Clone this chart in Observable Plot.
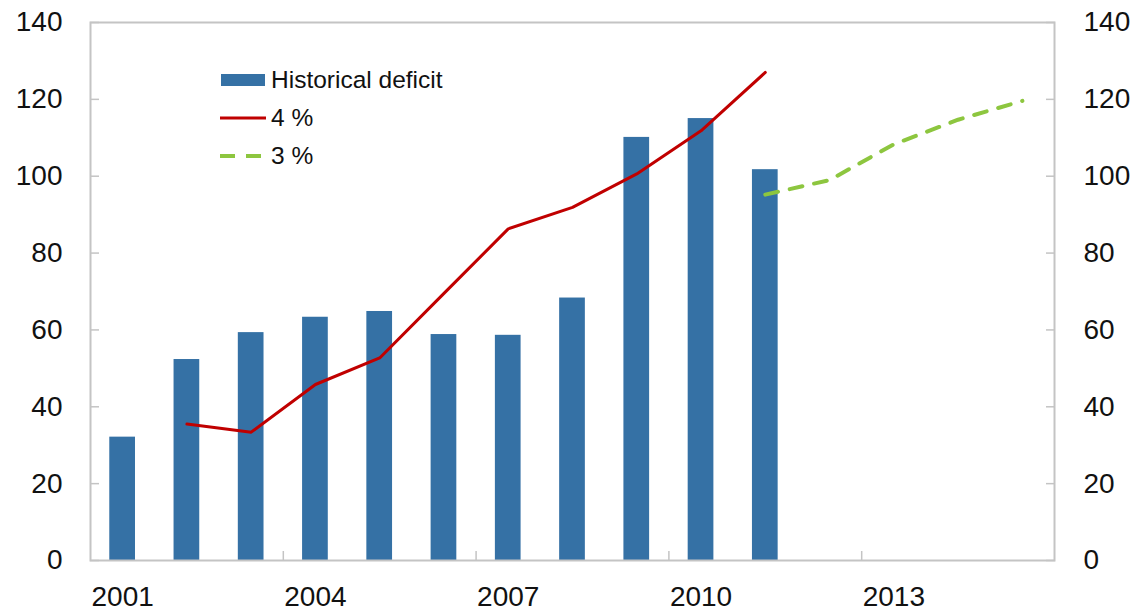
<!DOCTYPE html>
<html><head><meta charset="utf-8">
<script src="https://cdn.jsdelivr.net/npm/d3@7"></script>
<script src="https://cdn.jsdelivr.net/npm/@observablehq/plot@0.6"></script>
<style>
body{margin:0;background:#fff;}
#wrap{position:relative;width:1143px;height:613px;font-family:"Liberation Sans",Arial,sans-serif;}
.row{position:absolute;left:220px;height:38px;display:flex;align-items:center;font-size:24.5px;color:#111;white-space:nowrap;}
.row svg{margin-right:5px;display:block;}
</style></head><body><div id="wrap"></div>
<script>
const barYears = [2001,2002,2003,2004,2005,2006,2007,2008,2009,2010,2011];
const deficit  = [32.1,52.3,59.3,63.3,64.8,58.8,58.6,68.3,110.1,115.0,101.7];
const line4Years = [2002,2003,2004,2005,2006,2007,2008,2009,2010,2011];
const line4      = [35.5,33.4,45.8,52.7,69.5,86.3,91.9,100.6,111.8,127.0];
const line3Years = [2011,2012,2013,2014,2015];
const line3      = [95.2,99.0,108.3,114.7,119.6];
const yTicks = [0,20,40,60,80,100,120,140];
const xTickLabels = [2001,2004,2007,2010,2013];
const xTickMarks = [2003.5,2006.5,2009.5,2012.5];
const seriesNames = ["Historical deficit","4 %","3 %"];

const colors = {bar:"#3571a5", red:"#c00000", green:"#8dc63f", axis:"#c4c4c4", text:"#111"};

const bars = barYears.map((year,i)=>({year, value:deficit[i]}));
const s4 = line4Years.map((year,i)=>({year, value:line4[i]}));
const s3 = line3Years.map((year,i)=>({year, value:line3[i]}));

const halfBar = 0.2;

const chart = Plot.plot({
  width:1143, height:613,
  marginLeft:90, marginRight:89, marginTop:22, marginBottom:53,
  style:{fontFamily:'"Liberation Sans",Arial,sans-serif', fontSize:"28px", color:colors.text, background:"#fff", overflow:"visible"},
  x:{type:"linear", domain:[2000.5,2015.5]},
  y:{domain:[0,140]},
  marks:[
    Plot.rectY(bars,{x1:d=>d.year-halfBar, x2:d=>d.year+halfBar, y1:0, y2:"value", fill:colors.bar}),
    Plot.line(s4,{x:"year", y:"value", stroke:colors.red, strokeWidth:3}),
    Plot.line(s3,{x:"year", y:"value", stroke:colors.green, strokeWidth:4, strokeDasharray:"13,12"}),
    Plot.frame({stroke:colors.axis, strokeWidth:2}),
    Plot.axisY({anchor:"left", ticks:yTicks, tickSize:-9, stroke:colors.axis, strokeWidth:1.5, tickFormat:()=>"", label:null}),
    Plot.axisY({anchor:"left", ticks:yTicks, tickSize:0, tickPadding:28, tickFormat:d=>String(d), label:null, fontSize:28}),
    Plot.axisY({anchor:"right", ticks:yTicks, tickSize:-9, stroke:colors.axis, strokeWidth:1.5, tickFormat:()=>"", label:null}),
    Plot.axisY({anchor:"right", ticks:yTicks, tickSize:0, tickPadding:29, tickFormat:d=>String(d), label:null, fontSize:28}),
    Plot.axisX({anchor:"bottom", ticks:xTickMarks, tickSize:-9, stroke:colors.axis, strokeWidth:1.5, tickFormat:()=>"", label:null}),
    Plot.axisX({anchor:"bottom", ticks:xTickLabels, tickSize:0, tickPadding:26, tickFormat:d=>String(d), label:null, fontSize:28})
  ]
});
const wrap = document.getElementById("wrap");
wrap.appendChild(chart);

// legend
const rows = [
  {name:seriesNames[0], top:61, sw:`<svg width="46" height="14"><rect x="1" y="1" width="44" height="12" fill="${colors.bar}"/></svg>`},
  {name:seriesNames[1], top:99, sw:`<svg width="46" height="14"><line x1="0" y1="7" x2="46" y2="7" stroke="${colors.red}" stroke-width="3"/></svg>`},
  {name:seriesNames[2], top:137, sw:`<svg width="46" height="14"><line x1="0" y1="7" x2="46" y2="7" stroke="${colors.green}" stroke-width="4" stroke-dasharray="15,11"/></svg>`}
];
for (const r of rows) {
  const div = document.createElement("div");
  div.className = "row";
  div.style.top = r.top + "px";
  div.innerHTML = r.sw + `<span>${r.name}</span>`;
  wrap.appendChild(div);
}
</script></body></html>
